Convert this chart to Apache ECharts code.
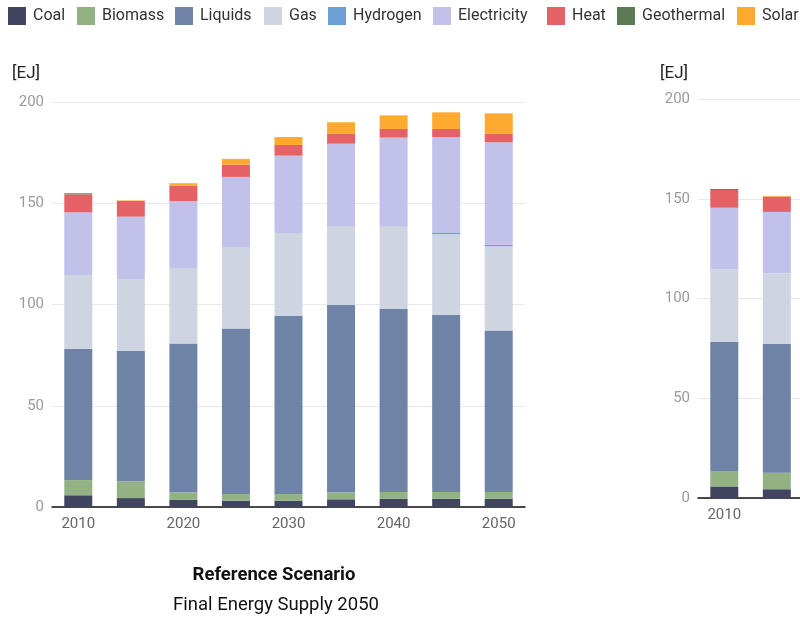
<!DOCTYPE html>
<html><head><meta charset="utf-8">
<script src="https://cdn.jsdelivr.net/npm/echarts@6/dist/echarts.min.js"></script>
<style>html,body{margin:0;padding:0;background:#fff}#c{width:800px;height:620px}</style>
</head><body><div id="c"></div>
<script>
const years = ['2010','2015','2020','2025','2030','2035','2040','2045','2050'];
const seriesNames = ['Coal','Biomass','Liquids','Gas','Hydrogen','Electricity','Heat','Geothermal','Solar'];
const colors = ['#424560','#92b284','#6e83a6','#cfd5e0','#6c9fd3','#c2c1ea','#e46265','#5c7a54','#fcaa30'];
const coal        = [5.8, 4.4, 3.5, 3.1, 3.1, 3.8, 4.1, 4.1, 4.1];
const biomass     = [7.5, 8.3, 3.6, 3.3, 3.3, 3.3, 3.3, 3.3, 3.3];
const liquids     = [64.9, 64.5, 73.7, 81.7, 87.9, 92.6, 90.4, 87.4, 79.7];
const gas         = [36.4, 35.4, 37.2, 40.0, 41.0, 38.7, 40.6, 40.0, 41.6];
const hydrogen    = [0, 0, 0, 0, 0, 0, 0, 0.8, 0.8];
const electricity = [30.9, 30.8, 33.0, 34.9, 38.2, 41.0, 44.0, 47.1, 50.6];
const heat        = [8.9, 7.7, 7.7, 6.0, 5.3, 4.9, 4.3, 4.0, 4.2];
const geothermal  = [0.5, 0, 0, 0, 0, 0, 0, 0, 0];
const solar       = [0, 0.3, 1.2, 2.9, 3.9, 5.7, 6.7, 8.2, 10.1];
const yTicks = [0, 50, 100, 150, 200];
const title1 = 'Reference Scenario';
const title2 = 'Final Energy Supply 2050';
const unit = '[EJ]';
const rightVisibleCount = 2;

// layout: left edge of each legend item
const legendLefts = [8, 77, 175, 264, 328, 433, 547, 617, 737];

const allData = [coal, biomass, liquids, gas, hydrogen, electricity, heat, geothermal, solar];
const font = 'Roboto, "Noto Sans", sans-serif';

function yAxis(idx){
  return {gridIndex: idx, type:'value', min: yTicks[0], max: yTicks[yTicks.length-1], interval: 50,
    axisLine:{show:false}, axisTick:{show:false},
    axisLabel:{color:'#9a9a9a', fontSize:15, fontFamily:font, margin:8},
    splitLine:{lineStyle:{color:'#e8e8e8', width:1}}};
}
function xAxis(idx){
  return {gridIndex: idx, type:'category', data: years,
    axisLine:{lineStyle:{color:'#111', width:1.5}}, axisTick:{show:false},
    axisLabel:{color:'#666', fontSize:15, fontFamily:font, margin:10, interval:1}};
}
const series = [];
seriesNames.forEach((n,i)=>{
  series.push({name:n, type:'bar', stack:'a', xAxisIndex:0, yAxisIndex:0, data: allData[i],
    barWidth:28, itemStyle:{color:colors[i]}, emphasis:{disabled:true}});
});
seriesNames.forEach((n,i)=>{
  series.push({name:n, type:'bar', stack:'b', xAxisIndex:1, yAxisIndex:1, data: allData[i].slice(0, rightVisibleCount),
    barWidth:28, itemStyle:{color:colors[i]}, emphasis:{disabled:true}});
});
const legends = seriesNames.map((n,i)=>({
  data:[n], left: legendLefts[i], top: 7, padding:0, itemWidth:18, itemHeight:18,
  icon:'rect', textStyle:{color:'#333', fontSize:16, fontFamily:font, padding:[0,0,0,2]}
}));

const chart = echarts.init(document.getElementById('c'), null, {renderer:'canvas'});
chart.setOption({
  animation:false,
  color: colors,
  legend: legends,
  grid:[
    {left:52, top:102, width:473, height:405, outerBoundsMode:'none'},
    {left:698, top:99, width:473, height:399, outerBoundsMode:'none'}
  ],
  xAxis:[xAxis(0), xAxis(1)],
  yAxis:[yAxis(0), yAxis(1)],
  series: series,
  graphic:[
    {type:'text', left:12, top:65, style:{text:unit, fill:'#222', font:'17px '+font}},
    {type:'text', left:660, top:65, style:{text:unit, fill:'#222', font:'17px '+font}},
    {type:'text', x:274, y:575, style:{text:title1, fill:'#111', font:'bold 18.5px '+font, textAlign:'center', textVerticalAlign:'middle'}},
    {type:'text', x:276, y:605, style:{text:title2, fill:'#111', font:'18.5px '+font, textAlign:'center', textVerticalAlign:'middle'}}
  ]
});
</script></body></html>
